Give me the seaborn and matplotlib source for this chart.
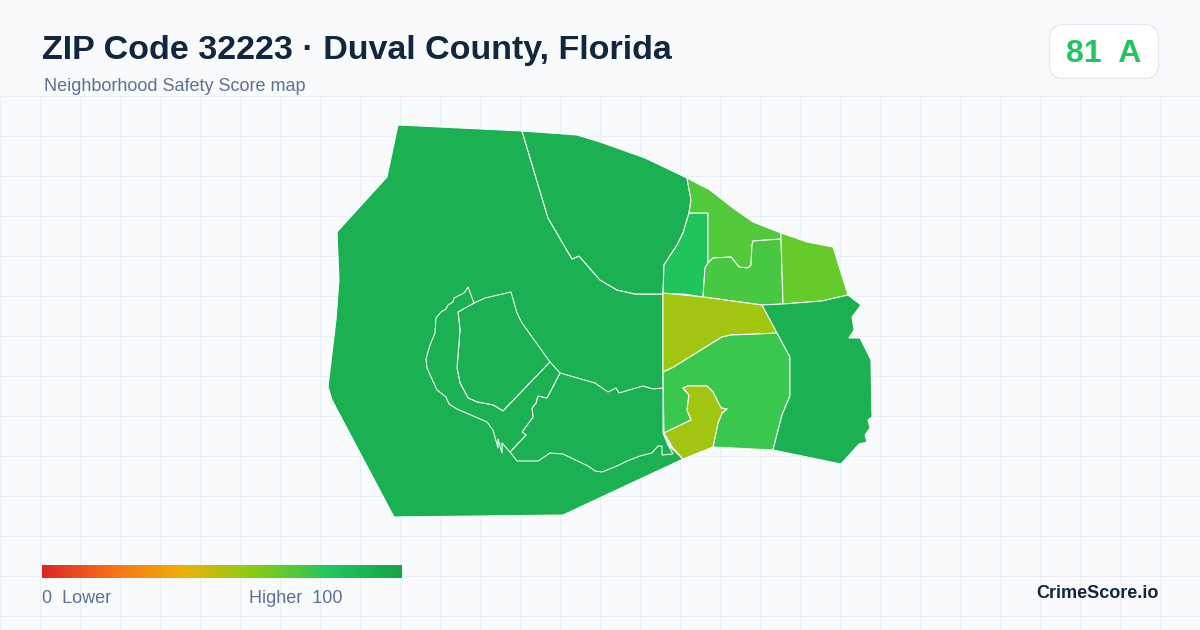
import numpy as np
import seaborn as sns
import matplotlib.pyplot as plt
from matplotlib.patches import FancyBboxPatch

# Scores (0-100)
west_score = 92
north_score = 92
east_score = 92
south_mid_score = 92
oxbow_score = 92
ring_score = 92
strip_score = 81
northeast_score = 70
inner_ne_score = 72
far_ne_score = 66
center_score = 54
south_score = 75
pocket_score = 54

west = [(398, 125), (522, 131), (548, 218), (572, 259), (579, 256), (600, 280), (617, 290), (635, 294),
        (663, 294), (663, 433), (668, 445), (683, 459), (563, 515), (394, 517), (332, 400), (328, 387),
        (336, 320), (339, 280), (337, 232), (387, 177)]
north = [(522, 131), (577, 135), (600, 142), (645, 158), (687, 178), (691, 200), (689, 213), (683, 233),
         (677, 245), (664, 265), (663, 294), (635, 294), (617, 290), (600, 280), (579, 256), (572, 259),
         (548, 218)]
strip = [(689, 213), (708, 213), (708, 263), (705, 268), (703, 297), (683, 294), (663, 294), (664, 265),
         (677, 245), (683, 233)]
northeast = [(687, 178), (710, 190), (733, 208), (753, 222), (781, 233), (781, 239), (753, 241), (752, 245),
             (751, 265), (748, 268), (739, 267), (731, 257), (713, 258), (708, 263), (708, 213), (689, 213),
             (691, 200)]
inner_ne = [(708, 263), (713, 258), (731, 257), (739, 267), (748, 268), (751, 265), (752, 245), (753, 241),
            (781, 239), (783, 304), (762, 305), (703, 297), (705, 268)]
far_ne = [(781, 233), (790, 236), (807, 242), (833, 247), (848, 295), (822, 301), (783, 304), (781, 239)]
center = [(663, 293), (703, 297), (762, 305), (778, 333), (757, 334), (731, 335), (722, 337), (672, 368),
          (663, 372)]
south = [(663, 372), (672, 368), (722, 337), (731, 335), (757, 334), (777, 333), (790, 357), (790, 396),
         (782, 415), (773, 450), (713, 447), (718, 423), (722, 413), (727, 409), (721, 408), (713, 392),
         (707, 386), (688, 386), (683, 388), (689, 395), (687, 410), (691, 420), (664, 433)]
pocket = [(664, 433), (691, 420), (687, 410), (689, 395), (683, 388), (688, 386), (707, 386), (713, 392),
          (721, 408), (727, 409), (722, 413), (718, 423), (713, 447), (683, 459), (673, 448)]
east = [(762, 305), (783, 304), (822, 301), (848, 295), (861, 305), (852, 317), (854, 330), (849, 338),
        (860, 338), (871, 360), (872, 417), (868, 420), (870, 428), (865, 435), (867, 442), (859, 444),
        (841, 464), (773, 450), (782, 415), (790, 396), (790, 357), (777, 333)]
south_mid = [(510, 452), (517, 461), (538, 461), (550, 453), (563, 454), (588, 466), (595, 471), (602, 472),
             (617, 466), (627, 461), (640, 456), (652, 453), (658, 446), (662, 446), (662, 455), (673, 454),
             (668, 445), (663, 433), (663, 388), (653, 389), (643, 386), (619, 393), (616, 388), (608, 392),
             (595, 383), (560, 373), (547, 398), (538, 396), (536, 403), (532, 408), (533, 417), (522, 432),
             (526, 435)]
oxbow = [(511, 292), (517, 313), (522, 323), (550, 362), (503, 411), (493, 405), (477, 402), (468, 398),
         (460, 383), (457, 368), (460, 330), (458, 312), (474, 303), (485, 298)]
ring = [(468, 287), (464, 293), (454, 298), (453, 302), (448, 305), (446, 309), (441, 312), (436, 318),
        (435, 333), (430, 345), (426, 359), (427, 368), (437, 390), (446, 397), (449, 404), (457, 409),
        (487, 422), (493, 430), (498, 448), (498, 439), (502, 453), (502, 443), (510, 452), (526, 435),
        (522, 432), (533, 417), (532, 408), (536, 403), (538, 396), (547, 398), (560, 373), (550, 362),
        (503, 411), (493, 405), (477, 402), (468, 398), (460, 383), (457, 368), (460, 330), (458, 312),
        (474, 303)]

# Painted in this order, the west silhouette goes under its enclosed areas
regions = [west, north, strip, northeast, inner_ne, far_ne, center, south, pocket, east, south_mid, oxbow, ring]
scores = [west_score, north_score, strip_score, northeast_score, inner_ne_score, far_ne_score, center_score,
          south_score, pocket_score, east_score, south_mid_score, oxbow_score, ring_score]

title = "ZIP Code 32223 · Duval County, Florida"
subtitle = "Neighborhood Safety Score map"
badge_text = "81  A"
brand = "CrimeScore.io"
low_label = "0  Lower"
high_label = "Higher  100"
scale_colors = ["#dc2626", "#f97316", "#eab308", "#84cc16", "#22c55e", "#16a34a"]

bg = "#f8fafc"
grid_color = "#e8eff5"
ink = "#12263f"
slate = "#5d7290"

sns.set_theme(style="white")
plt.rcParams["font.family"] = ["Liberation Sans", "DejaVu Sans"]

cmap = sns.blend_palette(scale_colors, as_cmap=True)

fig = plt.figure(figsize=(12, 6.3), dpi=100, facecolor=bg)
ax = fig.add_axes([0, 0, 1, 1], facecolor=bg)
ax.set_xlim(0, 1200)
ax.set_ylim(630, 0)
ax.axis("off")

# Background grid starts under the header
ax.vlines(np.arange(0, 1201, 40), 96, 630, color=grid_color, lw=0.8, zorder=1)
ax.hlines(np.arange(96, 630, 40), 0, 1200, color=grid_color, lw=0.8, zorder=1)

for outline, score in zip(regions, scores):
    xs, ys = zip(*outline)
    ax.fill(xs, ys, facecolor=cmap(score / 100), edgecolor="white", lw=0.75, joinstyle="round", zorder=2)

# Header
ax.text(42, 59, title, fontsize=24.48, fontweight="bold", color=ink, zorder=5)
ax.text(44, 91, subtitle, fontsize=12.96, color=slate, zorder=5)

badge = FancyBboxPatch((1049.5, 24.5), 109, 54, boxstyle="round,pad=0,rounding_size=14",
                       facecolor="white", edgecolor="#e2e8f0", lw=0.9, zorder=4)
ax.add_patch(badge)
ax.text(1104, 62, badge_text, fontsize=23, fontweight="bold", color="#22c55e", ha="center", zorder=5)

# Colour scale
bar_ax = fig.add_axes([42 / 1200, 1 - 578 / 630, 360 / 1200, 13 / 630])
sns.heatmap(np.linspace(0, 100, 360).reshape(1, -1), cmap=cmap, vmin=0, vmax=100, cbar=False,
            xticklabels=False, yticklabels=False, ax=bar_ax)

ax.text(42, 603, low_label, fontsize=12.96, color=slate, zorder=5)
ax.text(249, 603, high_label, fontsize=12.96, color=slate, zorder=5)
ax.text(1158.5, 598, brand, fontsize=13, fontweight="bold", color=ink, ha="right", zorder=5)

fig.savefig("out.png", dpi=100, facecolor=bg)
